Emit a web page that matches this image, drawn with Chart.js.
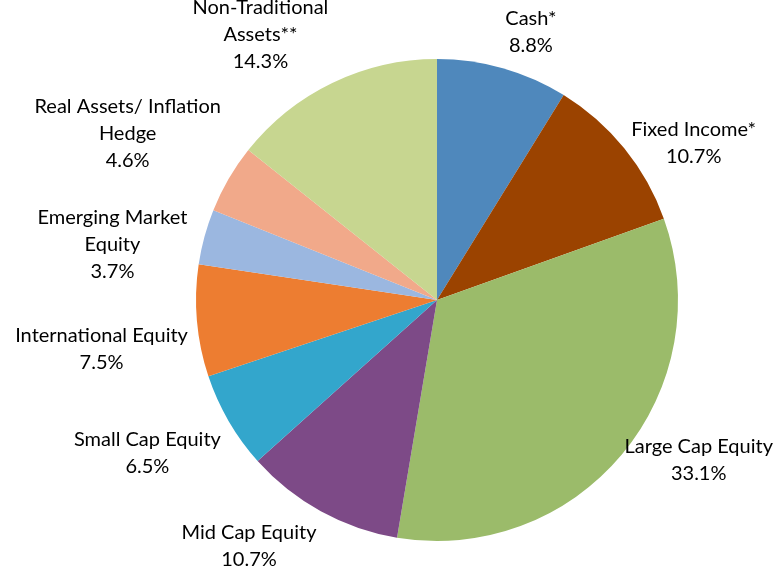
<!DOCTYPE html>
<html>
<head>
<meta charset="utf-8">
<script src="https://cdn.jsdelivr.net/npm/chart.js@4/dist/chart.umd.min.js"></script>
<style>
	html, body { margin: 0; padding: 0; background: #fff; }
	#wrap { width: 774px; height: 573px; }
</style>
</head>
<body>
<div id="wrap"><canvas id="chart"></canvas></div>
<script>
"use strict";

// category names, already split into the lines shown on the chart
const categories = [
	["Cash*"],
	["Fixed Income*"],
	["Large Cap Equity"],
	["Mid Cap Equity"],
	["Small Cap Equity"],
	["International Equity"],
	["Emerging Market", "Equity"],
	["Real Assets/ Inflation", "Hedge"],
	["Non-Traditional", "Assets**"],
];
const allocation = [8.8, 10.7, 33.1, 10.7, 6.5, 7.5, 3.7, 4.6, 14.3];
const sliceColors = [
	"#4f88bc", "#9b4300", "#9bbb6a", "#7d4a87", "#33a6cc",
	"#ed7d31", "#9bb7e0", "#f1a98a", "#c7d690",
];

const labelFont = "20px Lato";
const lineHeight = 27;

// draws each slice's name and percent outside the pie, like excel's outside-end labels
const outsideLabels = {
	id: "outsideLabels",
	afterDatasetsDraw(chart) {
		const ctx = chart.ctx;
		const meta = chart.getDatasetMeta(0);
		ctx.save();
		ctx.font = labelFont;
		ctx.fillStyle = "#000";
		ctx.textAlign = "center";
		ctx.textBaseline = "middle";

		const clampX = (cx, w) => Math.min(chart.width - w / 2 - 1, Math.max(w / 2 + 1, cx));

		const boxes = meta.data.map((arc, i) => {
			const lines = [...categories[i], allocation[i].toFixed(1) + "%"];
			const mid = (arc.startAngle + arc.endAngle) / 2;
			const ux = Math.cos(mid), uy = Math.sin(mid);
			const w = Math.max(...lines.map((l) => ctx.measureText(l).width));
			const h = lines.length * lineHeight;
			const r = arc.outerRadius + 9;
			// the box corner nearest the pie sits on the slice's middle ray,
			// except right-hand labels near the side which are centred vertically
			const sx = ux < 0 ? -1 : 1;
			let sy = uy < 0 ? -1 : 1;
			if (sx > 0 && Math.abs(uy) < 0.7) sy = 0;
			return {
				lines, w, h, r,
				ox: arc.x, oy: arc.y,
				side: sx,
				cx: clampX(arc.x + ux * r + sx * w / 2, w),
				cy: arc.y + uy * r + sy * h / 2,
			};
		});

		// walk each side from the top and push a label down when it runs into the one above,
		// then slide it sideways so its near corner stays just off the pie
		const minGap = 30;
		[-1, 1].forEach((side) => {
			const list = boxes.filter((b) => b.side === side).sort((a, b) => a.cy - b.cy);
			for (let k = 1; k < list.length; k++) {
				const a = list[k - 1], b = list[k];
				const overlapX = (a.w + b.w) / 2 - Math.abs(a.cx - b.cx);
				const space = (b.cy - b.h / 2) - (a.cy + a.h / 2);
				if (overlapX > 40 && space < minGap) {
					b.cy += minGap - space;
					const top = b.cy - b.h / 2, bottom = b.cy + b.h / 2;
					const dy = top > b.oy ? top - b.oy : (bottom < b.oy ? b.oy - bottom : 0);
					const dx = Math.sqrt(Math.max(0, b.r * b.r - dy * dy));
					b.cx = clampX(b.ox + side * (dx + b.w / 2), b.w);
				}
			}
		});

		boxes.forEach((b) => {
			b.lines.forEach((line, k) => {
				ctx.fillText(line, b.cx, b.cy - b.h / 2 + lineHeight * (k + 0.5));
			});
		});
		ctx.restore();
	},
};

new Chart(document.getElementById("chart"), {
	type: "pie",
	data: {
		labels: categories.map((c) => c.join(" ")),
		datasets: [{
			data: allocation,
			backgroundColor: sliceColors,
			borderWidth: 0,
		}],
	},
	options: {
		responsive: true,
		maintainAspectRatio: false,
		animation: false,
		layout: { padding: { left: 196, right: 96, top: 59, bottom: 32 } },
		plugins: {
			legend: { display: false },
			tooltip: { enabled: false },
		},
	},
	plugins: [outsideLabels],
});
</script>
</body>
</html>
